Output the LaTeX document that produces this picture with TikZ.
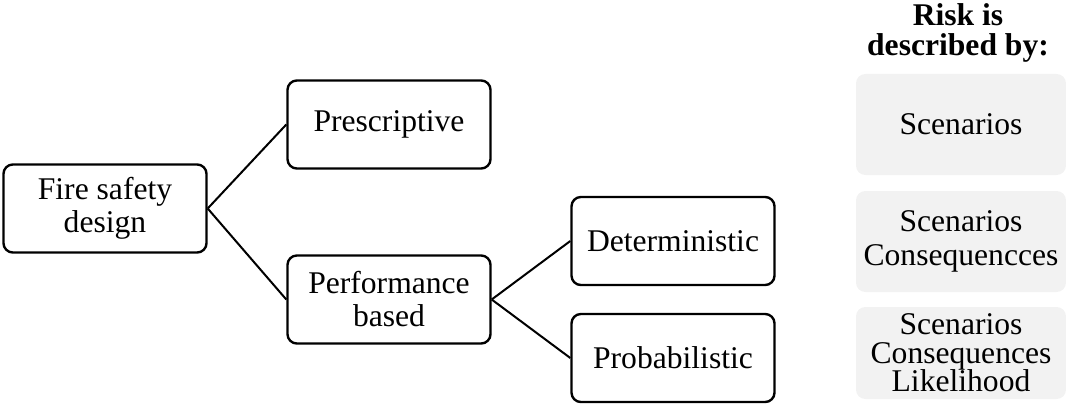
\documentclass[tikz,border=0pt]{standalone}
\usepackage{fontspec}
\setmainfont{Liberation Serif}
\begin{document}
\begin{tikzpicture}[x=0.75pt,y=-0.75pt,
  box/.style={draw=black,line width=1.8pt,rounded corners=7pt,fill=white,
    align=center,inner sep=0pt,minimum width=203*0.75pt,minimum height=88*0.75pt,
    font=\fontsize{23.7pt}{24.75pt}\selectfont},
  greybox/.style={fill=black!5,draw=none,rounded corners=7pt,
    align=center,inner sep=0pt,minimum width=210*0.75pt,
    font=\fontsize{23.7pt}{25.5pt}\selectfont},
  link/.style={line width=1.5pt}]
\useasboundingbox (0,0) rectangle (1066,410);

% decision tree
\node[box] (fire) at (105,208.5) {Fire safety\\design};
\node[box] (pres) at (389,124.5) {Prescriptive};
\node[box] (perf) at (389,299.5) {Performance\\based};
\node[box] (det)  at (673,241)   {Deterministic};
\node[box] (prob) at (673,358)   {Probabilistic};

\draw[link] (fire.east) -- (pres.west);
\draw[link] (fire.east) -- (perf.west);
\draw[link] (perf.east) -- (det.west);
\draw[link] (perf.east) -- (prob.west);

% risk description column
\node[align=center,inner sep=0pt,font=\fontsize{23.7pt}{22.5pt}\selectfont\bfseries] (head) at (958,33) {Risk is\\described by:};
\node[greybox,minimum height=101*0.75pt] (g1) at (961,124.5) {Scenarios};
\node[greybox,minimum height=101*0.75pt,font=\fontsize{23.7pt}{25.5pt}\selectfont] (g2) at (961,241.5) {Scenarios\\Consequencces};
\node[greybox,minimum height=92*0.75pt,font=\fontsize{23.7pt}{21.5pt}\selectfont] (g3) at (961,353) {Scenarios\\Consequences\\Likelihood};
\end{tikzpicture}
\end{document}
